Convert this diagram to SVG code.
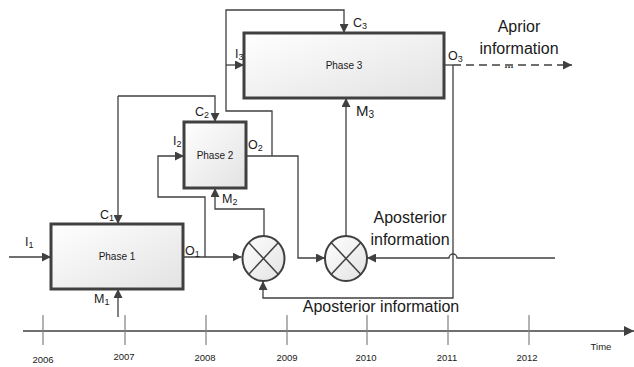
<svg xmlns="http://www.w3.org/2000/svg" width="634" height="367" viewBox="0 0 634 367">
<defs>
<linearGradient id="boxfill" x1="0" y1="0" x2="1" y2="1">
<stop offset="0" stop-color="#ffffff"/>
<stop offset="1" stop-color="#e2e2e2"/>
</linearGradient>
<marker id="arr" viewBox="0 0 10 10" refX="10" refY="5" markerWidth="9" markerHeight="9" markerUnits="userSpaceOnUse" orient="auto">
<path d="M0,0 L10,5 L0,10 z" fill="#404040"/>
</marker>
<marker id="arrL" viewBox="0 0 10 10" refX="10" refY="5" markerWidth="10" markerHeight="10" markerUnits="userSpaceOnUse" orient="auto">
<path d="M0,0 L10,5 L0,10 z" fill="#404040"/>
</marker>
</defs>
<style>
.box{fill:url(#boxfill);stroke:#404040;stroke-width:3}
.ln{fill:none;stroke:#404040;stroke-width:1.3}
.tick{stroke:#808080;stroke-width:1.2}
.dash{fill:none;stroke:#404040;stroke-width:1.6;stroke-dasharray:8,5}
.circ{fill:url(#boxfill);stroke:#404040;stroke-width:2}
.x{stroke:#404040;stroke-width:1.5}
text{font-family:"Liberation Sans","Open Sans",Arial,sans-serif;fill:#1a1a1a}
.ph{font-size:10px}
.lb{font-size:12.5px}
.sub{font-size:9px}
.big{font-size:16px}
.yr{font-size:9.5px}
</style>

<g id="connectors">
<path class="ln" d="M9,257 H51" marker-end="url(#arr)"/>
<path class="ln" d="M118,96 V224" marker-end="url(#arr)"/>
<path class="ln" d="M118,96 H215 V122" marker-end="url(#arr)"/>
<path class="ln" d="M118,317 V289" marker-end="url(#arr)"/>
<path class="ln" d="M183,257 H241.5" marker-end="url(#arr)"/>
<path class="ln" d="M205,257 V197 H158 V156 H184" marker-end="url(#arr)"/>
<path class="ln" d="M264,236 V209 H215 V188" marker-end="url(#arr)"/>
<path class="ln" d="M246,156 H298 V258 H325" marker-end="url(#arr)"/>
<path class="ln" d="M272,156 V111 H226 V10 H344 V33" marker-end="url(#arr)"/>
<path class="ln" d="M226,65 H244" marker-end="url(#arr)"/>
<path class="ln" d="M346,237 V98" marker-end="url(#arr)"/>
<path class="ln" d="M444,65 H453"/>
<path class="dash" d="M453,65 H572" marker-end="url(#arr)"/>
<path class="ln" d="M453,65 V298 H263 V281" marker-end="url(#arr)"/>
<path class="ln" d="M555,258 H457 A4,4 0 0 0 449,258 H367" marker-end="url(#arr)"/>
<path class="ln" d="M23,331 H634" stroke-width="1.6" marker-end="url(#arrL)"/>
</g>

<g id="timeline-ticks">
<line class="tick" x1="43" y1="315" x2="43" y2="345"/>
<line class="tick" x1="125" y1="315" x2="125" y2="345"/>
<line class="tick" x1="206" y1="315" x2="206" y2="345"/>
<line class="tick" x1="287" y1="315" x2="287" y2="345"/>
<line class="tick" x1="367" y1="315" x2="367" y2="345"/>
<line class="tick" x1="448" y1="315" x2="448" y2="345"/>
<line class="tick" x1="529" y1="315" x2="529" y2="345"/>
<text class="yr" x="43" y="363" text-anchor="middle">2006</text>
<text class="yr" x="124" y="360" text-anchor="middle">2007</text>
<text class="yr" x="205" y="361" text-anchor="middle">2008</text>
<text class="yr" x="287" y="361" text-anchor="middle">2009</text>
<text class="yr" x="366" y="361" text-anchor="middle">2010</text>
<text class="yr" x="447" y="361" text-anchor="middle">2011</text>
<text class="yr" x="527" y="361" text-anchor="middle">2012</text>
<text class="yr" x="601" y="350" text-anchor="middle">Time</text>
</g>

<g id="phase1">
<rect class="box" x="51" y="224" width="132" height="65"/>
<text class="ph" x="117" y="260" text-anchor="middle">Phase 1</text>
</g>
<g id="phase2">
<rect class="box" x="184" y="122" width="62" height="66"/>
<text class="ph" x="215" y="159" text-anchor="middle">Phase 2</text>
</g>
<g id="phase3">
<rect class="box" x="244" y="33" width="200" height="65"/>
<text class="ph" x="344" y="69" text-anchor="middle">Phase 3</text>
</g>
<g id="mult1">
<ellipse class="circ" cx="263.5" cy="258.5" rx="21" ry="22.5"/>
<line class="x" x1="248.6" y1="242.6" x2="278.4" y2="274.4"/>
<line class="x" x1="278.4" y1="242.6" x2="248.6" y2="274.4"/>
</g>
<g id="mult2">
<ellipse class="circ" cx="346" cy="258.5" rx="21" ry="22.5"/>
<line class="x" x1="331.1" y1="242.6" x2="360.9" y2="274.4"/>
<line class="x" x1="360.9" y1="242.6" x2="331.1" y2="274.4"/>
</g>

<g id="labels">
<text class="lb" x="25" y="246">I<tspan class="sub" dy="2">1</tspan></text>
<text class="lb" x="100" y="219">C<tspan class="sub" dy="2">1</tspan></text>
<text class="lb" x="185" y="255">O<tspan class="sub" dy="2">1</tspan></text>
<text class="lb" x="94" y="303">M<tspan class="sub" dy="2">1</tspan></text>
<text class="lb" x="195" y="116">C<tspan class="sub" dy="2">2</tspan></text>
<text class="lb" x="173" y="145">I<tspan class="sub" dy="2">2</tspan></text>
<text class="lb" x="248" y="149">O<tspan class="sub" dy="2">2</tspan></text>
<text class="lb" x="222" y="203">M<tspan class="sub" dy="2">2</tspan></text>
<text class="lb" x="353" y="27">C<tspan class="sub" dy="2">3</tspan></text>
<text class="lb" x="235" y="58">I<tspan class="sub" dy="2">3</tspan></text>
<text class="lb" x="448" y="60">O<tspan class="sub" dy="2">3</tspan></text>
<text x="356" y="116" font-size="15">M<tspan dy="2" font-size="10">3</tspan></text>
<text class="big" x="519" y="32" text-anchor="middle">Aprior</text>
<text class="big" x="519" y="54" text-anchor="middle">information</text>
<text x="509" y="68" text-anchor="middle" font-size="11" font-weight="bold">...</text>
<text class="big" x="410" y="223" text-anchor="middle">Aposterior</text>
<text class="big" x="410" y="245" text-anchor="middle">information</text>
<text class="big" x="381" y="312" text-anchor="middle">Aposterior information</text>
</g>
</svg>
